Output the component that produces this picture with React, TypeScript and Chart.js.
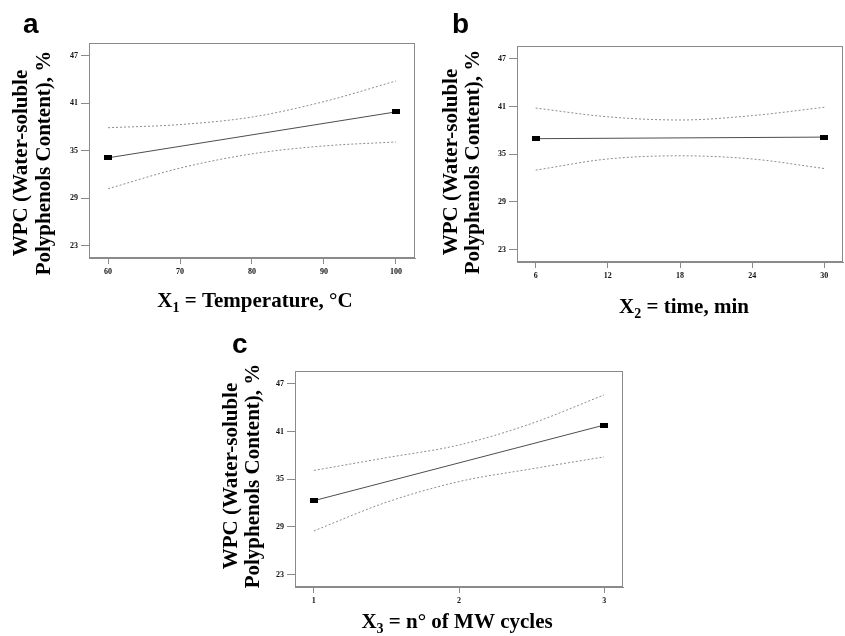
import React, { useEffect, useRef } from "react";
import { Chart, registerables } from "chart.js";

Chart.register(...registerables);

// ---------- shared ----------
const Y_TICKS = [23, 29, 35, 41, 47];
const Y_TITLE_LINES = ["WPC (Water-soluble", "Polyphenols Content), %"];

// ---------- panel a : temperature ----------
const A_X_TICKS = [60, 70, 80, 90, 100];
const A_MEAN_X = [60, 100];
const A_MEAN_Y = [34.1, 39.9];
const A_BAND_X = [60, 70, 80, 90, 100];
const A_UPPER = [37.9, 38.3, 39.25, 41.2, 43.8];
const A_LOWER = [30.2, 32.8, 34.6, 35.6, 36.1];

// ---------- panel b : time ----------
const B_X_TICKS = [6, 12, 18, 24, 30];
const B_MEAN_X = [6, 30];
const B_MEAN_Y = [36.95, 37.15];
const B_BAND_X = [6, 12, 18, 24, 30];
const B_UPPER = [40.8, 39.7, 39.3, 39.85, 40.9];
const B_LOWER = [33.0, 34.4, 34.8, 34.4, 33.2];

// ---------- panel c : MW cycles ----------
const C_X_TICKS = [1, 2, 3];
const C_MEAN_X = [1, 3];
const C_MEAN_Y = [32.3, 41.8];
const C_BAND_X = [1, 1.5, 2, 2.5, 3];
const C_UPPER = [36.1, 37.7, 39.3, 42.0, 45.6];
const C_LOWER = [28.5, 32.1, 34.7, 36.3, 37.8];

const SERIF = '"Liberation Serif", "Times New Roman", serif';
const SANS = '"Liberation Sans", Arial, sans-serif';
const AXIS_GRAY = "#8a8a8a";

type Panel = {
  letter: string;
  xMain: string;
  xSub: string;
  xRest: string;
  xTicks: number[];
  xMin: number;
  xMax: number;
  meanX: number[];
  meanY: number[];
  bandX: number[];
  upper: number[];
  lower: number[];
  // layout
  left: number;
  top: number;
  w: number;
  h: number;
  pad: { left: number; top: number; right: number; bottom: number };
  yAxisW: number;
  xAxisH: number;
  letterPos: [number, number];
  yLineX: [number, number];
  yCenter: number;
  xTitleCenter: number;
  xTitleBase: number;
};

const PANELS: Panel[] = [
  {
    letter: "a",
    xMain: "X",
    xSub: "1",
    xRest: " = Temperature, °C",
    xTicks: A_X_TICKS,
    xMin: 57.35,
    xMax: 102.65,
    meanX: A_MEAN_X,
    meanY: A_MEAN_Y,
    bandX: A_BAND_X,
    upper: A_UPPER,
    lower: A_LOWER,
    left: 0,
    top: 0,
    w: 420,
    h: 320,
    pad: { left: 0, top: 43, right: 5, bottom: 0 },
    yAxisW: 89,
    xAxisH: 62,
    letterPos: [23, 33],
    yLineX: [22, 45],
    yCenter: 163,
    xTitleCenter: 255,
    xTitleBase: 307,
  },
  {
    letter: "b",
    xMain: "X",
    xSub: "2",
    xRest: " = time, min",
    xTicks: B_X_TICKS,
    xMin: 4.45,
    xMax: 31.55,
    meanX: B_MEAN_X,
    meanY: B_MEAN_Y,
    bandX: B_BAND_X,
    upper: B_UPPER,
    lower: B_LOWER,
    left: 425,
    top: 0,
    w: 420,
    h: 320,
    pad: { left: 0, top: 46, right: 2, bottom: 0 },
    yAxisW: 92,
    xAxisH: 58,
    letterPos: [27, 33],
    yLineX: [27, 49],
    yCenter: 162,
    xTitleCenter: 259,
    xTitleBase: 313,
  },
  {
    letter: "c",
    xMain: "X",
    xSub: "3",
    xRest: " = n° of MW cycles",
    xTicks: C_X_TICKS,
    xMin: 0.87,
    xMax: 3.13,
    meanX: C_MEAN_X,
    meanY: C_MEAN_Y,
    bandX: C_BAND_X,
    upper: C_UPPER,
    lower: C_LOWER,
    left: 200,
    top: 320,
    w: 430,
    h: 316,
    pad: { left: 0, top: 51, right: 7, bottom: 0 },
    yAxisW: 95,
    xAxisH: 49,
    letterPos: [32, 33],
    yLineX: [32, 54],
    yCenter: 156,
    xTitleCenter: 257,
    xTitleBase: 308,
  },
];

function textPlugin(p: Panel) {
  return {
    id: "panelText" + p.letter,
    afterDraw(chart: any) {
      const ctx = chart.ctx as CanvasRenderingContext2D;
      const ca = chart.chartArea;
      ctx.save();
      // plot frame
      ctx.strokeStyle = AXIS_GRAY;
      ctx.lineWidth = 1;
      ctx.strokeRect(
        Math.round(ca.left) + 0.5,
        Math.round(ca.top) + 0.5,
        Math.round(ca.right - ca.left) - 1,
        Math.round(ca.bottom - ca.top) - 1
      );
      ctx.fillStyle = "#000";
      // panel letter
      ctx.font = `bold 28px ${SANS}`;
      ctx.textAlign = "left";
      ctx.textBaseline = "alphabetic";
      ctx.fillText(p.letter, p.letterPos[0], p.letterPos[1]);
      // y title
      ctx.font = `bold 21px ${SERIF}`;
      ctx.textAlign = "center";
      ctx.textBaseline = "middle";
      Y_TITLE_LINES.forEach((line, i) => {
        ctx.save();
        ctx.translate(p.yLineX[i], p.yCenter);
        ctx.rotate(-Math.PI / 2);
        ctx.fillText(line, 0, 0);
        ctx.restore();
      });
      // x title with subscript
      ctx.textAlign = "left";
      ctx.textBaseline = "alphabetic";
      const mainFont = `bold 21px ${SERIF}`;
      const subFont = `bold 14px ${SERIF}`;
      ctx.font = mainFont;
      const wMain = ctx.measureText(p.xMain).width;
      const wRest = ctx.measureText(p.xRest).width;
      ctx.font = subFont;
      const wSub = ctx.measureText(p.xSub).width;
      const total = wMain + wSub + wRest;
      let x = p.xTitleCenter - total / 2;
      ctx.font = mainFont;
      ctx.fillText(p.xMain, x, p.xTitleBase);
      x += wMain;
      ctx.font = subFont;
      ctx.fillText(p.xSub, x, p.xTitleBase + 5);
      x += wSub;
      ctx.font = mainFont;
      ctx.fillText(p.xRest, x, p.xTitleBase);
      ctx.restore();
    },
  };
}

function buildConfig(p: Panel, marker: HTMLCanvasElement): any {
  const pts = (xs: number[], ys: number[]) => xs.map((x, i) => ({ x, y: ys[i] }));
  const tickFont = { family: SERIF, size: 8, weight: "bold" as const };
  return {
    type: "line",
    data: {
      datasets: [
        {
          data: pts(p.meanX, p.meanY),
          borderColor: "#4d4d4d",
          borderWidth: 1,
          pointStyle: marker,
          pointRadius: 4,
          pointHoverRadius: 4,
          fill: false,
        },
        {
          data: pts(p.bandX, p.upper),
          borderColor: "#8c8c8c",
          borderWidth: 1,
          borderDash: [2, 2],
          pointRadius: 0,
          cubicInterpolationMode: "monotone",
          fill: false,
        },
        {
          data: pts(p.bandX, p.lower),
          borderColor: "#8c8c8c",
          borderWidth: 1,
          borderDash: [2, 2],
          pointRadius: 0,
          cubicInterpolationMode: "monotone",
          fill: false,
        },
      ],
    },
    options: {
      responsive: false,
      animation: false,
      events: [],
      layout: { padding: p.pad, autoPadding: false },
      plugins: { legend: { display: false }, tooltip: { enabled: false }, title: { display: false } },
      scales: {
        x: {
          type: "linear",
          min: p.xMin,
          max: p.xMax,
          afterBuildTicks: (s: any) => {
            s.ticks = p.xTicks.map((v) => ({ value: v }));
          },
          afterFit: (s: any) => {
            s.height = p.xAxisH;
          },
          grid: { drawOnChartArea: false, drawTicks: true, tickLength: 6, color: AXIS_GRAY, lineWidth: 1 },
          border: { display: true, color: AXIS_GRAY, width: 1 },
          ticks: {
            font: tickFont,
            color: "#111",
            padding: 3,
            maxRotation: 0,
            autoSkip: false,
            callback: (v: any) => String(v),
          },
        },
        y: {
          type: "linear",
          min: 21.45,
          max: 48.6,
          afterBuildTicks: (s: any) => {
            s.ticks = Y_TICKS.map((v) => ({ value: v }));
          },
          afterFit: (s: any) => {
            s.width = p.yAxisW;
          },
          grid: { drawOnChartArea: false, drawTicks: true, tickLength: 8, color: AXIS_GRAY, lineWidth: 1 },
          border: { display: true, color: AXIS_GRAY, width: 1 },
          ticks: {
            font: tickFont,
            color: "#111",
            padding: 3,
            autoSkip: false,
            callback: (v: any) => String(v),
          },
        },
      },
    },
    plugins: [textPlugin(p)],
  };
}

function PanelChart({ p }: { p: Panel }) {
  const ref = useRef<HTMLCanvasElement | null>(null);
  useEffect(() => {
    if (!ref.current) return;
    const marker = document.createElement("canvas");
    marker.width = 8;
    marker.height = 5;
    const mctx = marker.getContext("2d")!;
    mctx.fillStyle = "#000";
    mctx.fillRect(0, 0, 8, 5);
    const chart = new Chart(ref.current, buildConfig(p, marker));
    return () => chart.destroy();
  }, [p]);
  return (
    <canvas
      ref={ref}
      width={p.w}
      height={p.h}
      style={{ position: "absolute", left: p.left, top: p.top, width: p.w, height: p.h }}
    />
  );
}

export default function App() {
  return (
    <div style={{ position: "absolute", left: 0, top: 0, width: 845, height: 636, background: "#fff" }}>
      {PANELS.map((p) => (
        <PanelChart key={p.letter} p={p} />
      ))}
    </div>
  );
}
